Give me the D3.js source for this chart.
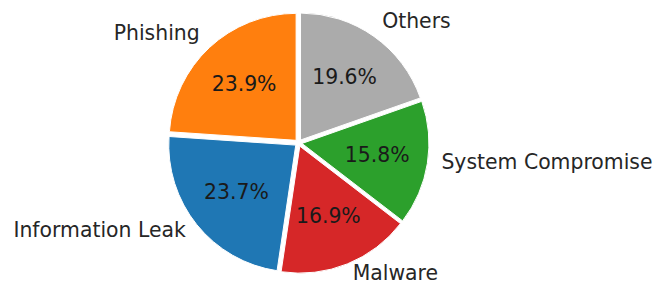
<!DOCTYPE html>
<html>
<head>
<meta charset="utf-8">
<script src="https://cdn.jsdelivr.net/npm/d3@7"></script>
<style>
  html, body { margin: 0; padding: 0; background: #fff; }
  svg { display: block; }
</style>
</head>
<body>
<svg id="chart"></svg>
<script>
const categories = ["Phishing", "Information Leak", "Malware", "System Compromise", "Others"];
const shares = [23.9, 23.7, 16.9, 15.8, 19.6];
const colors = ["#ff7f0e", "#1f77b4", "#d62728", "#2ca02c", "#ababab"];

const width = 662;
const height = 285;
const cx = 298.5;
const cy = 142.9;
const radius = 127;
const explode = 3.5;

const data = categories.map((c, i) => ({ label: c, value: shares[i], color: colors[i] }));
const total = d3.sum(shares);
const fmt = d3.format(".1%");

const svg = d3.select("#chart")
    .attr("width", width)
    .attr("height", height)
    .attr("viewBox", [0, 0, width, height]);

const g = svg.append("g").attr("transform", `translate(${cx},${cy})`);

// matplotlib style: start at 12 o'clock, counterclockwise
const pie = d3.pie()
    .value(d => d.value)
    .sort(null)
    .startAngle(0)
    .endAngle(-2 * Math.PI);

const arc = d3.arc().innerRadius(0).outerRadius(radius);
const arcs = pie(data);

const dir = d => {
    const a = (d.startAngle + d.endAngle) / 2;
    return [Math.sin(a), -Math.cos(a)];
};

const slice = g.selectAll("g.slice")
    .data(arcs)
    .join("g")
    .attr("class", "slice")
    .attr("transform", d => {
        const [x, y] = dir(d);
        return `translate(${x * explode},${y * explode})`;
    });

slice.append("path")
    .attr("d", arc)
    .attr("fill", d => d.data.color)
    .attr("stroke", "#fff")
    .attr("stroke-width", 1);

slice.append("text")
    .attr("x", d => dir(d)[0] * radius * 0.6)
    .attr("y", d => dir(d)[1] * radius * 0.6)
    .attr("dy", "0.3em")
    .attr("text-anchor", "middle")
    .attr("font-family", "DejaVu Sans")
    .attr("font-size", 20.4)
    .attr("fill", "#1a1a1a")
    .text(d => fmt(d.data.value / total));

const labelR = radius * 1.1 + 1.5;
slice.append("text")
    .attr("x", d => dir(d)[0] * labelR)
    .attr("y", d => dir(d)[1] * labelR)
    .attr("dy", "0.15em")
    .attr("text-anchor", d => dir(d)[0] > 0 ? "start" : "end")
    .attr("font-family", "DejaVu Sans")
    .attr("font-size", 20.4)
    .attr("fill", "#262626")
    .text(d => d.data.label);
</script>
</body>
</html>
